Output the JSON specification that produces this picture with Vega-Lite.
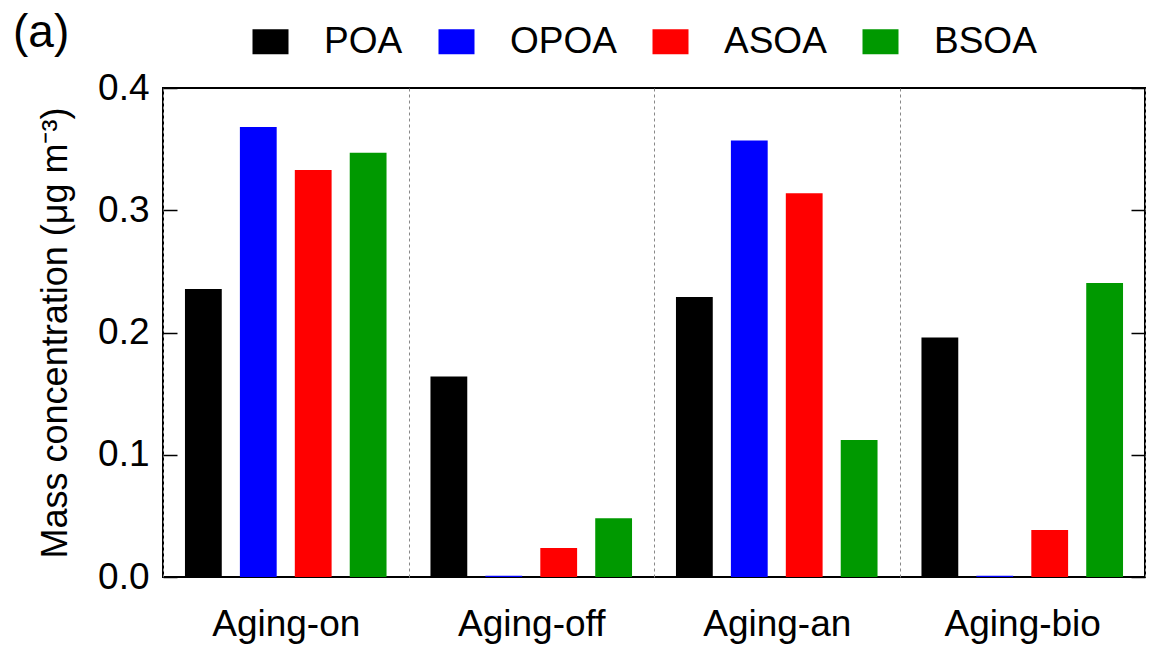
{
  "$schema": "https://vega.github.io/schema/vega-lite/v6.json",
  "width": 982,
  "height": 489,
  "autosize": {"type": "none"},
  "padding": {"left": 163, "top": 88, "right": 6, "bottom": 73},
  "background": "white",
  "config": {
    "font": "Liberation Sans",
    "view": {"stroke": "black", "strokeWidth": 2}
  },
  "title": {
    "text": "(a)",
    "anchor": "start",
    "frame": "group",
    "baseline": "top",
    "fontSize": 46,
    "fontWeight": "normal",
    "font": "Liberation Sans",
    "color": "black",
    "dx": -150,
    "dy": 34,
    "offset": 0
  },
  "data": {
    "values": [
      {"scenario": "Aging-on", "species": "POA", "value": 0.2356},
      {"scenario": "Aging-on", "species": "OPOA", "value": 0.368},
      {"scenario": "Aging-on", "species": "ASOA", "value": 0.333},
      {"scenario": "Aging-on", "species": "BSOA", "value": 0.347},
      {"scenario": "Aging-off", "species": "POA", "value": 0.164},
      {"scenario": "Aging-off", "species": "OPOA", "value": 0.001},
      {"scenario": "Aging-off", "species": "ASOA", "value": 0.0237},
      {"scenario": "Aging-off", "species": "BSOA", "value": 0.048},
      {"scenario": "Aging-an", "species": "POA", "value": 0.229},
      {"scenario": "Aging-an", "species": "OPOA", "value": 0.357},
      {"scenario": "Aging-an", "species": "ASOA", "value": 0.314},
      {"scenario": "Aging-an", "species": "BSOA", "value": 0.112},
      {"scenario": "Aging-bio", "species": "POA", "value": 0.196},
      {"scenario": "Aging-bio", "species": "OPOA", "value": 0.001},
      {"scenario": "Aging-bio", "species": "ASOA", "value": 0.0385},
      {"scenario": "Aging-bio", "species": "BSOA", "value": 0.2405}
    ]
  },
  "encoding": {
    "x": {
      "field": "scenario",
      "type": "nominal",
      "sort": ["Aging-on", "Aging-off", "Aging-an", "Aging-bio"],
      "scale": {"paddingInner": 0, "paddingOuter": 0},
      "axis": {
        "title": null,
        "domain": false,
        "ticks": false,
        "grid": true,
        "tickBand": "extent",
        "gridDash": [3, 3],
        "gridColor": "#888888",
        "gridWidth": 1,
        "labelFontSize": 37,
        "labelColor": "black",
        "labelAngle": 0,
        "labelBaseline": "top",
        "labelPadding": 29
      }
    },
    "xOffset": {
      "field": "species",
      "type": "nominal",
      "sort": ["POA", "OPOA", "ASOA", "BSOA"],
      "scale": {"paddingInner": 0.33, "paddingOuter": 0.4}
    }
  },
  "layer": [
    {
      "mark": {"type": "bar"},
      "encoding": {
        "y": {
          "field": "value",
          "type": "quantitative",
          "scale": {"domain": [0, 0.4], "nice": false},
          "axis": {
            "orient": "left",
            "title": "Mass concentration (μg m⁻³)",
            "titleFontSize": 36,
            "titleFontWeight": "normal",
            "titleColor": "black",
            "titlePadding": 23,
            "values": [0, 0.1, 0.2, 0.3, 0.4],
            "format": ".1f",
            "domain": false,
            "grid": false,
            "tickSize": -14,
            "tickColor": "black",
            "tickWidth": 1.5,
            "labelFontSize": 37,
            "labelColor": "black",
            "labelPadding": 28
          }
        },
        "color": {
          "field": "species",
          "type": "nominal",
          "scale": {
            "domain": ["POA", "OPOA", "ASOA", "BSOA"],
            "range": ["#000000", "#0000ff", "#ff0000", "#009900"]
          },
          "legend": {
            "title": null,
            "orient": "none",
            "direction": "horizontal",
            "legendX": 89,
            "legendY": -65,
            "padding": 0,
            "symbolType": "M-1,-0.69H1V0.69H-1Z",
            "symbolSize": 1296,
            "symbolStrokeWidth": 0,
            "labelFontSize": 37,
            "labelColor": "black",
            "labelOffset": 35,
            "columnPadding": 35
          }
        }
      }
    },
    {
      "mark": {"type": "bar", "opacity": 0},
      "encoding": {
        "y": {
          "field": "value",
          "type": "quantitative",
          "axis": {
            "orient": "right",
            "title": null,
            "values": [0, 0.1, 0.2, 0.3, 0.4],
            "labels": false,
            "domain": false,
            "grid": false,
            "tickSize": -14,
            "tickColor": "black",
            "tickWidth": 1.5
          }
        }
      }
    }
  ],
  "resolve": {"axis": {"y": "independent"}}
}
